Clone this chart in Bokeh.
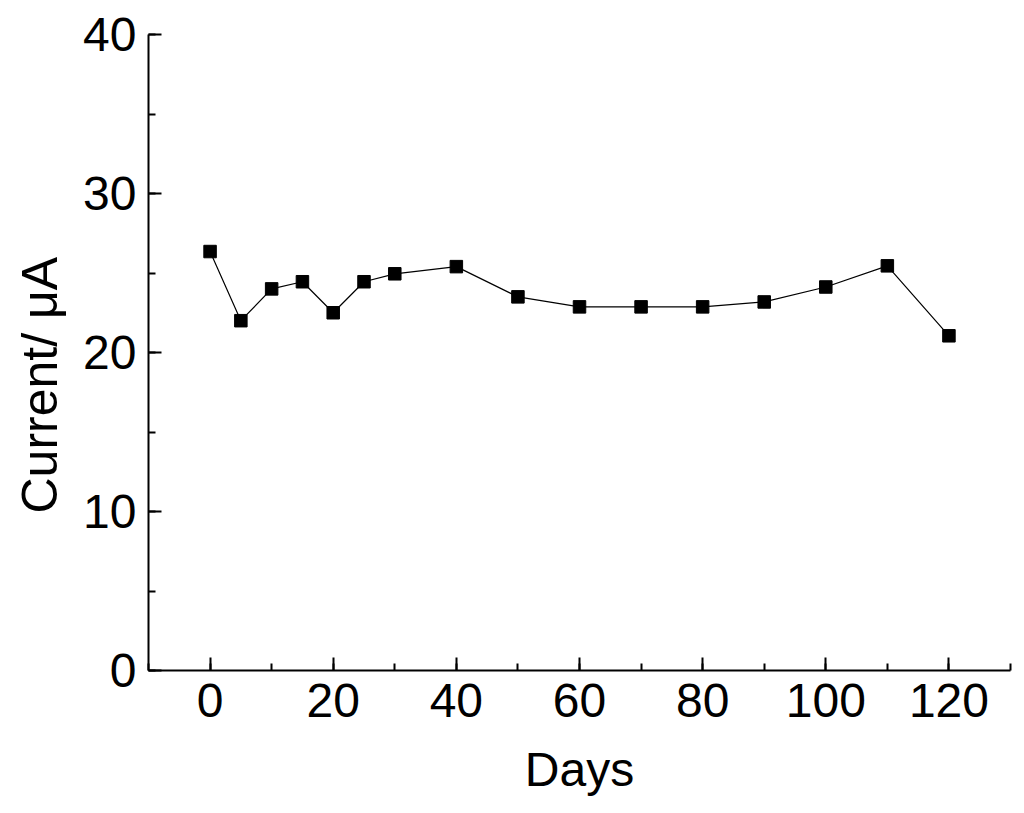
from bokeh.plotting import figure
from bokeh.models import SingleIntervalTicker, Range1d, Title
from bokeh.embed import file_html
from bokeh.resources import INLINE

days = [0, 5, 10, 15, 20, 25, 30, 40, 50, 60, 70, 80, 90, 100, 110, 120]
current = [26.35, 22.0, 24.0, 24.45, 22.5, 24.45, 24.95, 25.4, 23.5, 22.87,
           22.87, 22.87, 23.18, 24.12, 25.45, 21.05]
y_title = "Current/ μA"
x_title = "Days"

FONT = "Liberation Sans"

p = figure(width=1016, height=805, output_backend="svg", toolbar_location=None,
           x_range=Range1d(-10, 130), y_range=Range1d(0, 40),
           min_border_left=148, min_border_right=6, min_border_top=34,
           min_border_bottom=135)
p.outline_line_color = None
p.xgrid.visible = False
p.ygrid.visible = False

p.line(days, current, line_color="black", line_width=1.2)
p.scatter(days, current, marker="square", size=12.5, fill_color="black",
          line_color="black")

p.xaxis.ticker = SingleIntervalTicker(interval=20, num_minor_ticks=2)
p.yaxis.ticker = SingleIntervalTicker(interval=10, num_minor_ticks=2)

for ax in (p.xaxis[0], p.yaxis[0]):
    ax.axis_line_width = 2
    ax.major_tick_line_width = 2
    ax.minor_tick_line_width = 2
    ax.major_tick_in = 13
    ax.major_tick_out = 0
    ax.minor_tick_in = 7
    ax.minor_tick_out = 0
    ax.major_label_text_font = FONT
    ax.major_label_text_font_size = "48px"
    ax.major_label_text_color = "black"
    ax.axis_label_text_font = FONT
    ax.axis_label_text_font_size = "48px"
    ax.axis_label_text_font_style = "normal"
    ax.axis_label_text_color = "black"

p.xaxis.axis_label = x_title
p.xaxis.major_label_standoff = 13
p.yaxis.major_label_standoff = 12
p.xaxis.axis_label_standoff = 23

# y-axis title as a side title, shifted a little below the frame centre as in the original
ytitle = Title(text=y_title, align="left", offset=157, standoff=22,
               vertical_align="top",
               text_font=FONT, text_font_size="50px", text_font_style="normal",
               text_color="black")
p.add_layout(ytitle, "left")

open("out.html", "w").write(file_html(p, INLINE))
